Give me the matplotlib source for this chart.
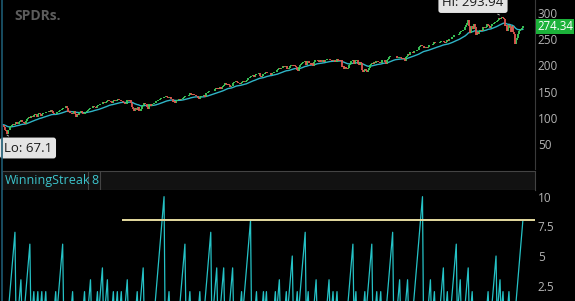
import matplotlib
matplotlib.use("Agg")
import matplotlib.pyplot as plt
from matplotlib.lines import Line2D
import matplotlib.transforms as mtransforms
import numpy as np
import pandas as pd

# weekly closes, Feb 2009 -> Feb 2019
closes_2009 = [86.8, 82.8, 77.4, 73.9, 68.8, 75.9, 76.7, 81.6, 84.2, 85.7, 87.3, 86.8,
               88.2, 92.9, 88.6, 88.3, 92.3, 94.5, 94.9, 92.1, 91.8, 89.8, 88.1, 94.2,
               97.7, 98.8, 101.0, 100.4, 103.0, 103.1, 101.8, 104.4, 106.7, 104.5, 102.3, 106.9,
               108.9, 108.0, 103.6, 106.9, 109.1, 109.4, 109.5, 110.9, 110.6, 110.2, 112.5, 111.4]
closes_2010 = [114.6, 113.6, 109.2, 107.4, 106.7, 107.0, 110.4, 110.7, 113.6, 114.6, 115.0, 116.0,
               117.8, 119.4, 119.4, 121.8, 118.8, 111.3, 113.9, 108.5, 109.4, 107.0, 109.7, 112.4,
               107.9, 102.2, 107.6, 106.1, 109.8, 110.3, 112.4, 108.3, 107.5, 106.9, 111.0, 111.5,
               112.9, 115.0, 114.6, 116.7, 117.8, 118.3, 118.5, 122.6, 120.4, 120.3, 118.5, 122.3,
               123.8, 124.3, 125.6, 125.8]
closes_2011 = [127.1, 129.3, 128.4, 127.7, 131.1, 133.0, 134.4, 132.0, 131.8, 130.8, 127.8, 131.9,
               133.2, 132.7, 131.6, 133.2, 136.4, 134.2, 133.6, 133.0, 132.5, 129.7, 127.6, 127.1,
               126.9, 134.4, 134.4, 131.7, 134.0, 128.9, 120.3, 117.7, 112.6, 117.9, 117.3, 115.2,
               121.5, 113.9, 113.2, 116.4, 122.8, 124.2, 128.6, 125.9, 126.7, 121.3, 116.6, 125.6,
               126.0, 121.6, 126.6, 125.5]
closes_2012 = [127.5, 128.8, 131.2, 131.5, 134.5, 134.6, 136.4, 136.9, 137.3, 137.6, 140.3, 139.7,
               140.8, 139.8, 137.1, 137.9, 140.4, 136.8, 135.7, 130.0, 131.8, 127.5, 132.0, 134.1,
               133.5, 136.1, 134.1, 135.5, 136.5, 138.6, 139.3, 140.9, 142.2, 141.5, 140.8, 143.8,
               146.6, 145.8, 144.0, 146.1, 142.9, 143.4, 141.4, 141.3, 138.1, 135.6, 140.4, 141.5,
               141.6, 141.9, 143.0, 140.0]
closes_2013 = [146.4, 147.1, 148.3, 150.2, 151.2, 151.8, 152.1, 151.6, 152.1, 155.4, 156.2, 155.6,
               156.7, 155.2, 159.0, 155.5, 158.2, 161.4, 163.4, 166.9, 164.7, 163.5, 164.8, 162.9,
               159.1, 160.4, 161.2, 166.7, 168.9, 168.9, 170.3, 168.4, 165.8, 166.6, 163.7, 165.5,
               168.9, 170.7, 169.1, 169.2, 170.3, 172.1, 175.9, 176.2, 177.3, 180.0, 180.5, 181.0,
               180.5, 177.7, 181.6, 184.2]
closes_2014 = [182.9, 184.1, 184.7, 179.6, 178.2, 179.7, 184.0, 183.9, 186.3, 188.3, 184.7, 186.2,
               185.3, 186.4, 181.5, 186.4, 186.3, 188.1, 187.7, 188.1, 190.4, 192.7, 194.9, 193.5,
               195.9, 195.8, 198.2, 196.6, 197.7, 197.9, 192.5, 193.2, 195.7, 199.1, 200.7, 200.9,
               198.6, 201.0, 198.8, 196.4, 190.5, 188.5, 196.4, 201.7, 203.2, 204.2, 206.7, 207.2,
               208.0, 200.9, 207.5, 208.7]
closes_2015 = [205.4, 204.3, 201.6, 205.0, 199.5, 205.6, 209.8, 211.0, 210.7, 207.5, 205.8, 210.4,
               205.7, 206.4, 210.4, 207.0, 210.6, 210.8, 211.6, 212.4, 213.0, 211.1, 209.8, 209.1,
               210.8, 209.6, 207.3, 207.3, 212.5, 207.5, 210.5, 208.4, 209.4, 197.6, 199.3, 192.6,
               196.5, 195.5, 193.3, 195.0, 201.0, 203.3, 207.5, 207.9, 210.0, 202.5, 209.3, 209.6,
               209.6, 201.9, 200.0, 205.7, 203.9]
closes_2016 = [191.9, 188.1, 190.5, 193.7, 188.6, 186.6, 191.9, 195.1, 200.4, 202.0, 204.4, 203.1,
               206.9, 204.5, 207.8, 209.0, 206.3, 205.7, 204.8, 205.5, 210.2, 210.3, 209.8, 206.5,
               203.2, 209.9, 212.6, 216.1, 217.2, 217.1, 218.2, 218.5, 218.5, 217.3, 218.4, 213.3,
               213.4, 216.0, 216.3, 215.0, 213.1, 214.0, 212.5, 208.6, 216.4, 218.5, 221.5, 219.7,
               226.5, 225.0, 225.7, 223.5]
closes_2017 = [227.2, 227.0, 226.7, 229.0, 229.3, 231.5, 235.4, 236.7, 238.4, 237.7, 237.0, 233.9,
               235.7, 235.2, 232.5, 234.6, 238.1, 239.7, 239.0, 238.0, 241.7, 244.2, 243.4, 242.6,
               243.1, 241.8, 242.1, 245.6, 247.1, 246.9, 247.4, 244.1, 242.7, 244.6, 247.8, 246.6,
               250.1, 250.1, 251.2, 254.4, 255.0, 257.1, 257.7, 258.7, 258.1, 257.9, 260.4, 264.5,
               265.5, 266.5, 267.5, 266.9]
closes_2018 = [274.0, 278.0, 280.4, 286.6, 275.5, 261.5, 273.0, 274.7, 269.1, 278.9, 274.2, 258.1,
               263.2, 259.7, 265.2, 266.6, 266.6, 266.0, 272.9, 271.3, 272.1, 273.6, 278.2, 277.1,
               274.7, 271.3, 275.4, 279.6, 279.7, 281.4, 283.6, 283.2, 285.1, 287.5, 290.3, 287.6,
               290.9, 292.0, 290.7, 287.8, 276.0, 276.3, 265.3, 271.9, 278.0, 273.7, 263.6, 275.7,
               263.6, 260.5, 240.7, 247.8]
closes_2019 = [252.4, 259.0, 266.5, 266.8, 270.1, 270.5, 274.34]

closes = (closes_2009 + closes_2010 + closes_2011 + closes_2012 + closes_2013 + closes_2014
          + closes_2015 + closes_2016 + closes_2017 + closes_2018 + closes_2019)

# WinningStreak study values, one per weekly bar
streak = [0, 0, 0, 0, 0, 0, 1, 2, 3, 4, 5, 6, 7, 0, 0, 0, 1, 2, 3, 0,
          0, 0, 1, 2, 3, 4, 5, 6, 0, 0, 1, 2, 0, 0, 1, 2, 0, 0, 1, 2,
          0, 0, 1, 2, 0, 0, 0, 0, 0, 0, 0, 0, 1, 2, 0, 1, 2, 3, 4, 5,
          6, 0, 0, 0, 0, 0, 0, 0, 0, 1, 2, 0, 0, 0, 0, 0, 0, 0, 0, 0,
          0, 1, 2, 0, 0, 0, 1, 2, 3, 0, 0, 0, 0, 0, 1, 2, 0, 1, 2, 3,
          4, 0, 0, 1, 2, 3, 0, 0, 0, 0, 1, 2, 0, 0, 1, 2, 0, 0, 1, 2,
          0, 0, 0, 1, 2, 3, 0, 0, 0, 0, 0, 0, 0, 0, 1, 2, 0, 0, 1, 2,
          3, 4, 0, 0, 0, 0, 0, 0, 0, 0, 0, 0, 0, 1, 2, 3, 4, 5, 6, 7,
          8, 9, 10, 0, 0, 0, 1, 2, 0, 0, 0, 0, 0, 0, 0, 0, 0, 0, 1, 2,
          3, 4, 5, 6, 0, 0, 0, 1, 2, 0, 0, 0, 0, 0, 0, 0, 0, 1, 2, 0,
          0, 0, 0, 1, 2, 3, 4, 5, 6, 7, 0, 0, 1, 2, 3, 4, 0, 0, 0, 1,
          2, 3, 4, 0, 0, 0, 0, 0, 1, 2, 3, 4, 0, 0, 0, 0, 0, 0, 0, 1,
          2, 0, 1, 2, 3, 4, 5, 6, 7, 8, 0, 0, 0, 0, 1, 2, 0, 0, 0, 0,
          0, 1, 2, 0, 1, 2, 0, 0, 0, 0, 0, 0, 0, 1, 2, 0, 1, 2, 3, 0,
          0, 0, 0, 0, 1, 2, 0, 1, 2, 3, 4, 5, 0, 0, 0, 1, 2, 0, 1, 2,
          3, 4, 5, 6, 7, 0, 1, 2, 0, 0, 0, 0, 0, 1, 2, 3, 0, 0, 0, 0,
          0, 0, 0, 0, 0, 0, 1, 2, 3, 0, 0, 1, 2, 0, 0, 1, 2, 0, 0, 0,
          0, 0, 0, 0, 0, 0, 0, 1, 2, 3, 4, 5, 6, 0, 1, 2, 0, 0, 0, 0,
          0, 0, 0, 1, 2, 0, 1, 2, 3, 4, 5, 6, 0, 0, 0, 1, 2, 0, 0, 1,
          2, 0, 0, 0, 0, 0, 1, 2, 3, 4, 5, 6, 7, 0, 0, 0, 0, 1, 2, 3,
          0, 0, 0, 0, 0, 1, 2, 3, 0, 0, 0, 0, 0, 1, 2, 3, 4, 5, 6, 7,
          8, 9, 10, 0, 0, 0, 0, 0, 1, 2, 3, 0, 0, 1, 2, 0, 0, 0, 0, 0,
          1, 2, 3, 4, 0, 0, 1, 2, 0, 0, 0, 1, 2, 3, 4, 5, 6, 0, 1, 2,
          3, 0, 0, 0, 0, 1, 2, 3, 4, 0, 0, 1, 2, 0, 0, 0, 0, 0, 0, 0,
          0, 0, 0, 0, 0, 0, 0, 1, 2, 0, 0, 0, 1, 2, 3, 4, 5, 0, 1, 2,
          3, 0, 1, 2, 0, 0, 0, 0, 1, 2, 0, 0, 0, 0, 0, 0, 1, 2, 3, 4,
          5, 6, 7, 8]

lo_bar, lo_value = 4, 67.1
hi_bar, hi_value = 502, 293.94
last_value = 274.34
level_start, level_value = 120, 8
study_name = "WinningStreak"
study_value = "8"
price_ticks = [50, 100, 150, 200, 250, 300]
streak_ticks = [2.5, 5, 7.5, 10]
streak_tick_labels = ["2.5", "5", "7.5", "10"]

W, H = 575, 301
plt.rcParams['font.family'] = ['Open Sans', 'DejaVu Sans']
fig = plt.figure(figsize=(W / 100, H / 100), dpi=100, facecolor="black")


def px_box(x0, y0, x1, y1):
    # pixel rect (top-left origin) -> figure fraction
    return [x0 / W, 1 - y1 / H, (x1 - x0) / W, (y1 - y0) / H]


XLIM = (-1.03, 535.2)
GREY = "#b4b4b4"

# price panel
ax = fig.add_axes(px_box(2, 0, 535, 169), facecolor="black")
c = np.array(closes)
x = np.arange(len(c))
o = np.r_[c[0], c[:-1]]
up = c >= o
ax.plot(x, ma := pd.Series(c).ewm(span=26, adjust=False).mean(), color="#2fb4c6", lw=1.0)
ax.vlines(x[up], o[up], c[up], color="#3ccf5c", lw=1.3)
ax.vlines(x[~up], c[~up], o[~up], color="#e2564f", lw=1.3)
ax.set_xlim(*XLIM)
ax.set_ylim(2.3, 324.8)
ax.set_xticks([])
ax.yaxis.tick_right()
ax.set_yticks(price_ticks)
ax.tick_params(axis="y", length=0, pad=2, labelcolor=GREY, labelsize=8.5)
for s in ax.spines.values():
    s.set_visible(False)
ax.spines["right"].set_visible(True)
ax.spines["right"].set_color("#3a3a3a")

lbl_box = dict(boxstyle="round,pad=0.3,rounding_size=0.2", fc="#e4e4e4", ec="none")
ax.annotate(f"Lo: {lo_value}", xy=(lo_bar, lo_value), xytext=(28, H - 148),
            textcoords="figure pixels", ha="center", va="center", fontsize=9.5,
            color="#1a1a1a", bbox=lbl_box,
            arrowprops=dict(arrowstyle="-", color="#cccccc", lw=0.6))
ax.annotate(f"Hi: {hi_value}", xy=(hi_bar, hi_value), xytext=(473, H - 2.5),
            textcoords="figure pixels", ha="center", va="center", fontsize=9.5,
            color="#1a1a1a", bbox=lbl_box, annotation_clip=False,
            arrowprops=dict(arrowstyle="-", color="#cccccc", lw=0.6))
trans = mtransforms.blended_transform_factory(ax.transAxes, ax.transData)
ax.text(1.0 + 2 / 533, last_value, f"{last_value}", transform=trans, ha="left",
        va="center", fontsize=8.3, color="white",
        bbox=dict(boxstyle="square,pad=0.12", fc="#1cb23a", ec="none"))

# study header
hx = fig.add_axes(px_box(2, 171, 535, 190), facecolor="#121212")
hx.set_xlim(0, 533)
hx.set_ylim(0, 1)
hx.set_xticks([])
hx.set_yticks([])
for s in hx.spines.values():
    s.set_color("#444444")
hx.axvline(86, color="#444444", lw=0.8)
hx.axvline(98, color="#444444", lw=0.8)
hx.text(3, 0.48, study_name, color="#3cc4cc", fontsize=9, va="center", ha="left")
hx.text(89, 0.48, study_value, color="#3cc4cc", fontsize=9, va="center", ha="left")

# streak panel
sx = fig.add_axes(px_box(2, 190, 535, 301), facecolor="black")
sx.plot(np.arange(len(streak)), streak, color="#25c2c6", lw=0.9)
sx.hlines(level_value, level_start, XLIM[1], color="#e6dba0", lw=1.4)
sx.set_xlim(*XLIM)
sx.set_ylim(1.21, 10.56)
sx.set_xticks([])
sx.yaxis.tick_right()
sx.set_yticks(streak_ticks)
sx.set_yticklabels(streak_tick_labels)
sx.tick_params(axis="y", length=0, pad=2, labelcolor=GREY, labelsize=8.5)
for s in sx.spines.values():
    s.set_visible(False)

# logo watermark and left border
fig.text(14 / W, 1 - 16 / H, "SPDRs.", color="#5c5c5c", fontsize=10,
         fontweight="bold", va="center", ha="left")
fig.add_artist(Line2D([1.5 / W, 1.5 / W], [0, 1], color="#1c5a72", lw=1.2))

fig.savefig("out.png", dpi=100, facecolor="black")
